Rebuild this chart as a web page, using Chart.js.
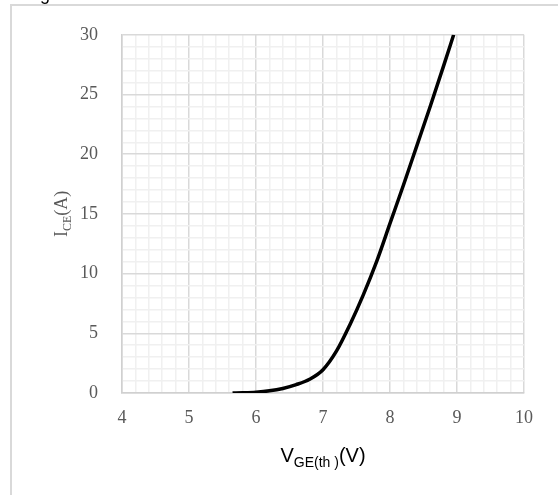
<!DOCTYPE html>
<html>
<head>
<meta charset="utf-8">
<script src="https://cdn.jsdelivr.net/npm/chart.js@4"></script>
<style>
  html, body { margin: 0; padding: 0; background: #ffffff; }
  #wrap { width: 558px; height: 495px; position: relative; }
</style>
</head>
<body>
<div id="wrap"><canvas id="c" width="558" height="495"></canvas></div>
<script>
// Gate voltage (V) and collector current (A) along the transfer curve
const vGE = [5.65, 5.8, 6.0, 6.2, 6.4, 6.6, 6.8, 7.0, 7.2, 7.4, 7.6, 7.8, 8.0, 8.2, 8.4, 8.6, 8.8, 8.95];
const iCE = [0, 0.02, 0.07, 0.18, 0.38, 0.7, 1.15, 1.95, 3.5, 5.7, 8.2, 11.0, 14.2, 17.4, 20.7, 24.0, 27.4, 30];

// Axis ranges and labelled ticks
const xTickLabels = [4, 5, 6, 7, 8, 9, 10];
const yTickLabels = [0, 5, 10, 15, 20, 25, 30];
const xMinorStep = 0.2;
const yMinorStep = 1;

const MAJOR = '#d9d9d9';
const MINOR = '#f0f0f0';

function isLabelled(v, list) {
  return list.some(t => Math.abs(t - v) < 1e-6);
}

// Frame, clipped heading and axis titles with subscripts
const decor = {
  id: 'decor',
  beforeDraw(chart) {
    const ctx = chart.ctx;
    ctx.save();
    ctx.strokeStyle = '#d9d9d9';
    ctx.lineWidth = 2;
    ctx.beginPath();
    ctx.moveTo(11, 500);
    ctx.lineTo(11, 5);
    ctx.lineTo(560, 5);
    ctx.stroke();
    ctx.fillStyle = '#000000';
    ctx.font = '18px "Liberation Sans", Arial, sans-serif';
    ctx.textBaseline = 'alphabetic';
    ctx.fillText('Fig', 25, 0);
    ctx.restore();
  },
  afterDraw(chart) {
    const ctx = chart.ctx;
    const a = chart.chartArea;
    ctx.save();
    // x axis title: V_GE(th )(V)
    ctx.fillStyle = '#000000';
    ctx.textBaseline = 'alphabetic';
    const big = '20px "Liberation Sans", Arial, sans-serif';
    const small = '14px "Liberation Sans", Arial, sans-serif';
    const parts = [['V', big, 0], ['GE(th )', small, 5], ['(V)', big, 0]];
    let total = 0;
    parts.forEach(p => { ctx.font = p[1]; total += ctx.measureText(p[0]).width; });
    let x = (a.left + a.right) / 2 - total / 2;
    const base = 462;
    parts.forEach(p => {
      ctx.font = p[1];
      ctx.fillText(p[0], x, base + p[2]);
      x += ctx.measureText(p[0]).width;
    });
    // y axis title: I_CE(A), rotated
    ctx.translate(67, (a.top + a.bottom) / 2);
    ctx.rotate(-Math.PI / 2);
    ctx.fillStyle = '#595959';
    const ybig = '18px "Liberation Serif", "DejaVu Serif", serif';
    const ysmall = '12px "Liberation Serif", "DejaVu Serif", serif';
    const yparts = [['I', ybig, 0], ['CE', ysmall, 4], ['(A)', ybig, 0]];
    let yt = 0;
    yparts.forEach(p => { ctx.font = p[1]; yt += ctx.measureText(p[0]).width; });
    let yx = -yt / 2;
    yparts.forEach(p => {
      ctx.font = p[1];
      ctx.fillText(p[0], yx, p[2]);
      yx += ctx.measureText(p[0]).width;
    });
    ctx.restore();
  }
};

new Chart(document.getElementById('c'), {
  type: 'scatter',
  data: {
    datasets: [{
      data: vGE.map((v, i) => ({ x: v, y: iCE[i] })),
      showLine: true,
      borderColor: '#000000',
      borderWidth: 3.5,
      pointRadius: 0,
      cubicInterpolationMode: 'monotone',
      fill: false
    }]
  },
  options: {
    responsive: false,
    animation: false,
    layout: { padding: { top: 33, right: 34, left: 0, bottom: 0 } },
    plugins: { legend: { display: false }, tooltip: { enabled: false } },
    scales: {
      x: {
        type: 'linear',
        min: xTickLabels[0],
        max: xTickLabels[xTickLabels.length - 1],
        afterBuildTicks(scale) {
          const t = [];
          for (let v = scale.min; v <= scale.max + 1e-9; v += xMinorStep) t.push({ value: Math.round(v * 10) / 10 });
          scale.ticks = t;
        },
        afterFit(scale) { scale.height = 102; },
        border: { display: true, color: '#d0d0d0', width: 1.5 },
        grid: {
          drawTicks: false,
          lineWidth: 1.5,
          color: c => isLabelled(c.tick.value, xTickLabels) ? MAJOR : MINOR
        },
        ticks: {
          autoSkip: false,
          maxRotation: 0,
          padding: 14,
          color: '#595959',
          font: { family: '"Liberation Serif", "DejaVu Serif", serif', size: 18 },
          callback: v => isLabelled(v, xTickLabels) ? String(Math.round(v)) : ''
        }
      },
      y: {
        type: 'linear',
        min: yTickLabels[0],
        max: yTickLabels[yTickLabels.length - 1],
        afterBuildTicks(scale) {
          const t = [];
          for (let v = scale.min; v <= scale.max + 1e-9; v += yMinorStep) t.push({ value: v });
          scale.ticks = t;
        },
        afterFit(scale) { scale.width = 122; },
        border: { display: true, color: '#d0d0d0', width: 1.5 },
        grid: {
          drawTicks: false,
          lineWidth: 1.5,
          color: c => isLabelled(c.tick.value, yTickLabels) ? MAJOR : MINOR
        },
        ticks: {
          autoSkip: false,
          padding: 24,
          color: '#595959',
          font: { family: '"Liberation Serif", "DejaVu Serif", serif', size: 18 },
          callback: v => isLabelled(v, yTickLabels) ? String(v) : ''
        }
      }
    }
  },
  plugins: [decor]
});
</script>
</body>
</html>
